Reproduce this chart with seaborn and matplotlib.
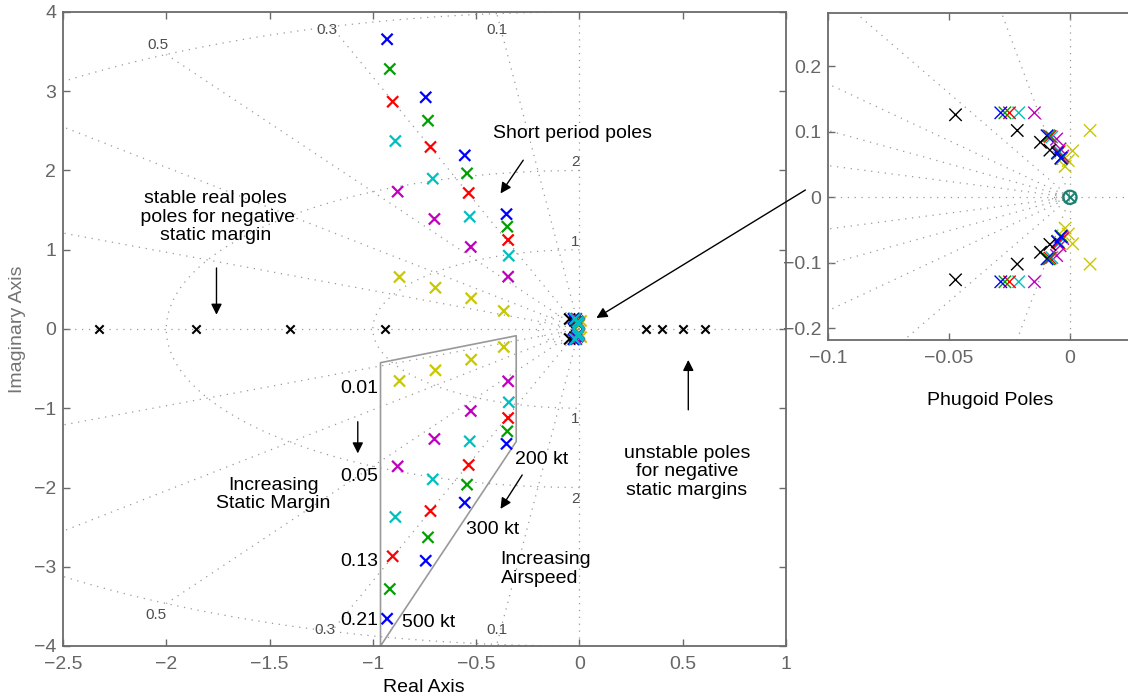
import numpy as np
import pandas as pd
import matplotlib
matplotlib.use("Agg")
import matplotlib.pyplot as plt
import seaborn as sns

# ---------------- data ----------------
static_margins = ["0.01", "0.05", "0.09", "0.13", "0.17", "0.21"]
margin_colors = ["#c8c800", "#bf00bf", "#00bfbf", "#ff0000", "#00a000", "#0000ff"]
airspeeds = ["200 kt", "300 kt", "400 kt", "500 kt"]

# short period poles (upper half), rows = static margin, cols = airspeed
sp_real = [
    [-0.366, -0.524, -0.697, -0.871],
    [-0.345, -0.526, -0.702, -0.880],
    [-0.342, -0.531, -0.710, -0.891],
    [-0.345, -0.536, -0.721, -0.904],
    [-0.349, -0.544, -0.733, -0.918],
    [-0.353, -0.555, -0.744, -0.931],
]
sp_imag = [
    [0.227, 0.387, 0.521, 0.656],
    [0.660, 1.035, 1.388, 1.733],
    [0.925, 1.417, 1.897, 2.372],
    [1.123, 1.716, 2.297, 2.868],
    [1.291, 1.964, 2.629, 3.281],
    [1.449, 2.191, 2.924, 3.656],
]

# negative static margin: real short period poles
neg_stable_real = [-0.942, -1.399, -1.854, -2.325]
neg_unstable_real = [0.324, 0.400, 0.499, 0.610]

# phugoid poles (upper half); last row = negative static margin (black)
ph_groups = static_margins + ["neg"]
ph_real = [
    [0.0083, 0.0011, -0.0007, -0.0020],
    [-0.0147, -0.0055, -0.0041, -0.0030],
    [-0.0212, -0.0075, -0.0044, -0.0033],
    [-0.0250, -0.0082, -0.0047, -0.0034],
    [-0.0269, -0.0088, -0.0050, -0.0036],
    [-0.0286, -0.0095, -0.0052, -0.0038],
    [-0.0473, -0.0218, -0.0122, -0.0083],
]
ph_imag = [
    [0.102, 0.071, 0.056, 0.047],
    [0.129, 0.089, 0.074, 0.063],
    [0.129, 0.092, 0.070, 0.061],
    [0.129, 0.093, 0.069, 0.060],
    [0.129, 0.094, 0.067, 0.059],
    [0.129, 0.094, 0.068, 0.060],
    [0.126, 0.102, 0.084, 0.072],
]

zeta_lines = [0.1, 0.3, 0.5, 0.7, 0.9]
wn_main = [0.1, 0.2, 1, 2, 4]
wn_inset = [0.0025, 0.004, 0.0055, 0.0075]

# ---------------- frames ----------------
rows = []
for i, m in enumerate(static_margins):
    for j, a in enumerate(airspeeds):
        for sgn in (1, -1):
            rows.append(dict(margin=m, airspeed=a, re=sp_real[i][j], im=sgn * sp_imag[i][j]))
sp_df = pd.DataFrame(rows)

rows = []
for j, a in enumerate(airspeeds):
    rows.append(dict(airspeed=a, re=neg_stable_real[j], im=0.0))
    rows.append(dict(airspeed=a, re=neg_unstable_real[j], im=0.0))
neg_df = pd.DataFrame(rows)

rows = []
for i, g in enumerate(ph_groups):
    for j, a in enumerate(airspeeds):
        for sgn in (1, -1):
            rows.append(dict(margin=g, airspeed=a, re=ph_real[i][j], im=sgn * ph_imag[i][j]))
ph_df = pd.DataFrame(rows)

# drawing order in the main plot cluster: black first, cyan on top
main_order = ["neg", "0.01", "0.13", "0.17", "0.21", "0.05", "0.09"]
ph_main_df = pd.concat([ph_df[ph_df["margin"] == g] for g in main_order])

palette = dict(zip(static_margins, margin_colors))
palette["neg"] = "black"

# ---------------- style ----------------
sns.set_theme(style="ticks")
plt.rcParams["font.family"] = ["Liberation Sans", "DejaVu Sans"]
GRAY = "0.42"
GRID = "0.6"
DOT = (0, (1, 4.5))

fig = plt.figure(figsize=(11.28, 6.99), dpi=100)
W, H = 1128, 699
ax = fig.add_axes([63 / W, (H - 646) / H, 723 / W, 634 / H])
ax2 = fig.add_axes([828 / W, (H - 340) / H, 363 / W, 327 / H])


def style_axes(a):
    for s in a.spines.values():
        s.set_visible(True)
        s.set_color(GRAY)
        s.set_linewidth(1.3)
    a.tick_params(direction="in", length=5, width=1, colors=GRAY,
                  labelsize=14, top=True, right=True, labelcolor="0.4")
    a.tick_params(axis="x", pad=7)
    a.tick_params(axis="y", pad=5)
    a.set_facecolor("white")


def sgrid(a, zetas, wns, rmax, xr):
    for z in zetas:
        r = np.array([0, rmax])
        for sgn in (1, -1):
            a.plot(-r * z, sgn * r * np.sqrt(1 - z * z), color=GRID, lw=0.9,
                   ls=DOT, zorder=1)
    th = np.linspace(np.pi / 2, 3 * np.pi / 2, 300)
    for w in wns:
        a.plot(w * np.cos(th), w * np.sin(th), color=GRID, lw=0.9, ls=DOT, zorder=1)
    a.plot(xr, [0, 0], color=GRID, lw=0.9, ls=DOT, zorder=1)
    a.plot([0, 0], [-10, 10], color=GRID, lw=0.9, ls=DOT, zorder=1)


# ---------------- main axes ----------------
style_axes(ax)
sgrid(ax, zeta_lines, wn_main, 4, [-3, 2])
ax.set_xlim(-2.5, 1)
ax.set_ylim(-4, 4)
ax.set_xticks(np.arange(-2.5, 1.01, 0.5))
ax.set_xticklabels(["\u22122.5", "\u22122", "\u22121.5", "\u22121", "\u22120.5", "0", "0.5", "1"])
ax.set_yticks(np.arange(-4, 4.01, 1))
ax.set_yticklabels(["\u22124", "\u22123", "\u22122", "\u22121", "0", "1", "2", "3", "4"])

# damping / frequency labels
for (x, y, t) in [(-2.04, 3.58, "0.5"), (-1.22, 3.77, "0.3"), (-0.40, 3.77, "0.1"),
                  (-2.05, -3.61, "0.5"), (-1.23, -3.80, "0.3"), (-0.40, -3.80, "0.1"),
                  (-0.02, 2.11, "2"), (-0.02, 1.10, "1"), (-0.02, -1.13, "1"), (-0.02, -2.14, "2")]:
    ax.text(x, y, t, fontsize=11, color="0.3", ha="center", va="center", zorder=2)

# region polygon
ax.plot([-0.963, -0.963, -0.306, -0.306, -0.963], [-4.0, -0.425, -0.085, -1.42, -4.0],
        color="0.6", lw=1.2, zorder=2)

sns.scatterplot(data=ph_main_df, x="re", y="im", hue="margin", palette=palette, marker="x",
                s=64, linewidth=1.5, legend=False, ax=ax, zorder=3)
sns.scatterplot(data=sp_df, x="re", y="im", hue="margin", palette=palette, marker="x",
                s=64, linewidth=1.6, legend=False, ax=ax, zorder=4)
sns.scatterplot(data=neg_df, x="re", y="im", color="black", marker="x",
                s=36, linewidth=1.5, legend=False, ax=ax, zorder=4)
ax.set_xlabel("")
ax.set_ylabel("")

arrow = dict(arrowstyle="-|>", color="black", lw=1.0, mutation_scale=16, shrinkA=0, shrinkB=0)
TX = dict(fontsize=14, color="black")
LS = 1.12
ax.text(-0.034, 2.47, "Short period poles", ha="center", va="center", **TX)
ax.annotate("", xy=(-0.382, 1.71), xytext=(-0.272, 2.13), arrowprops=arrow)
ax.text(-1.762, 1.41, "stable real poles\n poles for negative\nstatic margin",
        ha="center", va="center", linespacing=LS, **TX)
ax.annotate("", xy=(-1.757, 0.18), xytext=(-1.757, 0.77), arrowprops=arrow)
ax.text(0.521, -1.80, "unstable poles\nfor negative\nstatic margins",
        ha="center", va="center", linespacing=LS, **TX)
ax.annotate("", xy=(0.527, -0.39), xytext=(0.527, -1.02), arrowprops=arrow)
ax.annotate("", xy=(0.082, 0.139), xytext=(1.094, 1.754), arrowprops=arrow,
            annotation_clip=False)
for y, t in [(-0.749, "0.01"), (-1.864, "0.05"), (-2.928, "0.13"), (-3.672, "0.21")]:
    ax.text(-0.975, y, t, ha="right", va="center", **TX)
ax.annotate("", xy=(-1.073, -1.57), xytext=(-1.073, -1.17), arrowprops=arrow)
ax.text(-1.481, -2.09, "Increasing\nStatic Margin", ha="center", va="center",
        linespacing=LS, **TX)
ax.text(-0.31, -1.645, "200 kt", ha="left", va="center", **TX)
ax.annotate("", xy=(-0.382, -2.27), xytext=(-0.277, -1.842), arrowprops=arrow)
ax.text(-0.547, -2.536, "300 kt", ha="left", va="center", **TX)
ax.text(-0.382, -3.03, "Increasing\nAirspeed", ha="left", va="center", linespacing=LS, **TX)
ax.text(-0.858, -3.706, "500 kt", ha="left", va="center", **TX)

# ---------------- inset (phugoid) ----------------
style_axes(ax2)
sgrid(ax2, zeta_lines, wn_inset, 1, [-0.2, 0.1])
ax2.set_xlim(-0.1, 0.05)
ax2.set_ylim(-0.2179, 0.2814)
ax2.set_xticks([-0.1, -0.05, 0])
ax2.set_xticklabels(["\u22120.1", "\u22120.05", "0"])
ax2.set_yticks([-0.2, -0.1, 0, 0.1, 0.2])
ax2.set_yticklabels(["\u22120.2", "\u22120.1", "0", "0.1", "0.2"])
sns.scatterplot(data=ph_df, x="re", y="im", hue="margin", palette=palette, marker="x",
                s=80, linewidth=1.0, legend=False, ax=ax2, zorder=3)
ax2.scatter([0], [0], marker="o", s=90, facecolors="none", edgecolors="#1a8070", lw=1.6, zorder=5)
ax2.scatter([0], [0], marker="x", s=60, color="#1a8070", lw=1.4, zorder=5)
ax2.set_xlabel("")
ax2.set_ylabel("")

# ---------------- labels ----------------
fig.text(424 / W, 1 - 688 / H, "Real Axis", ha="center", va="center", fontsize=14, color="black")
fig.text(18 / W, 1 - 329 / H, "Imaginary Axis", ha="center", va="center", rotation=90,
         fontsize=14, color="0.45")
fig.text(990 / W, 1 - 400 / H, "Phugoid Poles", ha="center", va="center", fontsize=14,
         color="black")

fig.savefig("out.png", dpi=100, facecolor="white")
